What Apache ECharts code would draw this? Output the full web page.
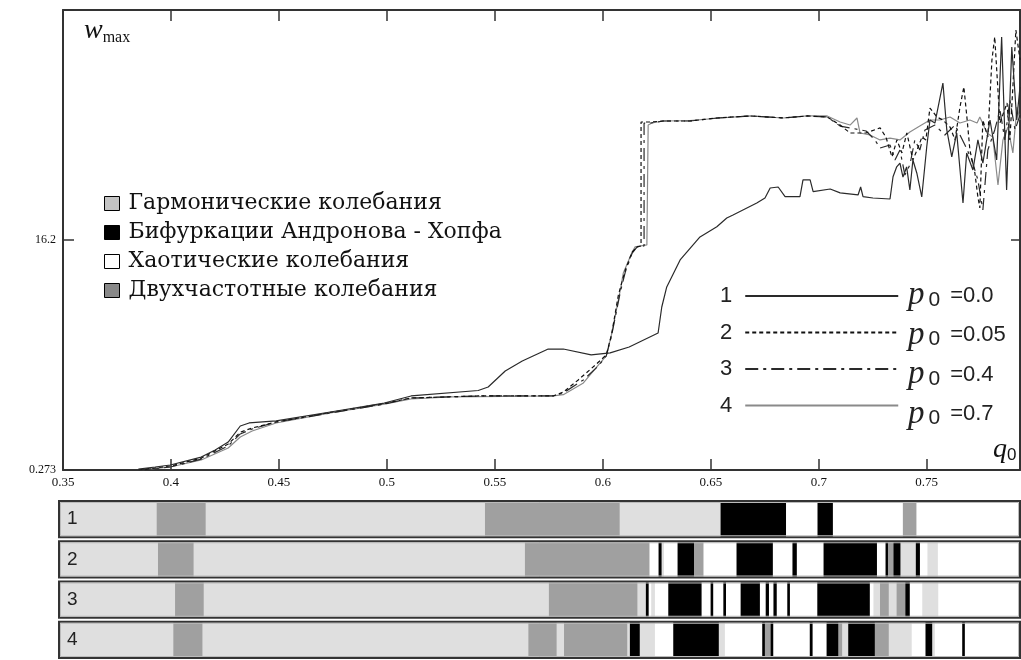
<!DOCTYPE html>
<html>
<head>
<meta charset="utf-8">
<script src="https://cdn.jsdelivr.net/npm/echarts@6.0.0/dist/echarts.min.js"></script>
<style>
  html, body { margin: 0; padding: 0; background: #fff; }
  #chart { width: 1021px; height: 660px; }
</style>
</head>
<body>
<div id="chart"></div>
<script>
// curve 1, p0 = 0.0
var q1 = [0.3849,0.3927,0.3997,0.4140,0.4205,0.4265,0.4321,0.4362,0.4487,0.4738,0.4988,0.5112,0.5423,0.5469,0.5548,0.5627,0.5747,0.5817,0.5946,0.6034,0.6122,0.6256,0.6273,0.6296,0.6358,0.6450,0.6528,0.6574,0.6603,0.6713,0.6751,0.6775,0.6812,0.6844,0.6913,0.6927,0.6960,0.6974,0.7053,0.7099,0.7182,0.7194,0.7205,0.7251,0.7330,0.7344,0.7361,0.7376,0.7390,0.7407,0.7422,0.7436,0.7454,0.7477,0.7500,0.7515,0.7538,0.7575,0.7593,0.7616,0.7639,0.7668,0.7685,0.7714,0.7737,0.7760,0.7793,0.7824,0.7847,0.7870,0.7894,0.7917,0.7932];
var w1 = [0.34,0.48,0.62,1.17,1.66,2.21,3.32,3.53,3.67,4.29,4.91,5.40,5.78,6.02,7.13,7.82,8.65,8.65,8.24,8.38,8.79,9.76,11.56,12.95,14.82,16.41,17.12,17.72,17.93,18.76,19.11,19.80,19.87,19.20,19.20,20.36,20.36,19.55,19.73,19.46,19.32,19.87,19.20,19.11,19.04,20.58,21.27,21.53,20.56,21.26,19.66,21.74,20.84,19.18,22.64,24.51,24.30,27.07,23.82,21.95,23.61,18.76,22.23,21.05,23.13,21.53,24.51,21.74,30.26,19.66,29.57,24.51,26.80];

// curve 2, p0 = 0.05
var q2 = [0.3849,0.3997,0.4140,0.4265,0.4321,0.4376,0.4487,0.4738,0.4988,0.5112,0.5423,0.5770,0.5817,0.5886,0.5965,0.6016,0.6040,0.6072,0.6104,0.6136,0.6159,0.6177,0.6177,0.6219,0.6279,0.6404,0.6529,0.6682,0.6835,0.6946,0.7039,0.7099,0.7145,0.7219,0.7284,0.7311,0.7339,0.7362,0.7385,0.7408,0.7436,0.7455,0.7478,0.7496,0.7515,0.7547,0.7575,0.7608,0.7631,0.7654,0.7672,0.7686,0.7700,0.7723,0.7737,0.7746,0.7760,0.7783,0.7802,0.7815,0.7839,0.7872,0.7885,0.7899,0.7913,0.7932];
var w2 = [0.27,0.55,1.10,2.07,2.89,3.18,3.60,4.26,4.88,5.26,5.40,5.40,5.67,6.51,7.54,8.24,9.62,12.39,14.12,15.37,15.72,15.79,24.37,24.37,24.44,24.44,24.65,24.79,24.65,24.79,24.72,24.16,23.61,23.61,23.96,23.33,21.95,23.13,22.23,23.61,21.74,22.43,23.33,23.13,25.34,24.72,24.51,24.02,23.13,25.41,26.80,24.72,22.43,20.84,19.18,18.42,24.51,23.33,28.67,30.26,24.30,25.69,23.13,26.80,30.74,28.67];

// curve 3, p0 = 0.4
var q3 = [0.3849,0.3997,0.4140,0.4265,0.4321,0.4376,0.4487,0.4738,0.4988,0.5112,0.5423,0.5770,0.5817,0.5910,0.5979,0.6016,0.6040,0.6081,0.6104,0.6136,0.6159,0.6191,0.6191,0.6219,0.6279,0.6404,0.6529,0.6682,0.6835,0.6946,0.7039,0.7099,0.7145,0.7219,0.7260,0.7284,0.7330,0.7353,0.7376,0.7399,0.7422,0.7445,0.7468,0.7492,0.7538,0.7584,0.7631,0.7677,0.7709,0.7737,0.7760,0.7783,0.7815,0.7839,0.7862,0.7885,0.7909,0.7932];
var w3 = [0.27,0.48,1.03,1.94,2.77,3.11,3.60,4.22,4.84,5.26,5.40,5.40,5.61,6.51,7.47,8.17,9.55,12.60,13.98,15.30,15.72,15.79,24.30,24.30,24.44,24.44,24.65,24.79,24.65,24.79,24.72,24.09,23.96,23.75,23.13,22.57,22.78,21.74,22.43,20.70,21.40,23.13,22.43,23.82,24.16,23.47,24.16,22.78,21.74,20.36,18.28,22.43,23.82,25.20,23.13,25.90,23.82,24.86];

// curve 4, p0 = 0.7
var q4 = [0.3849,0.3997,0.4140,0.4265,0.4321,0.4376,0.4487,0.4738,0.4988,0.5112,0.5293,0.5423,0.5770,0.5817,0.5910,0.5979,0.6016,0.6042,0.6081,0.6095,0.6134,0.6149,0.6204,0.6210,0.6228,0.6279,0.6404,0.6529,0.6682,0.6835,0.6946,0.7039,0.7099,0.7145,0.7177,0.7191,0.7237,0.7284,0.7330,0.7376,0.7422,0.7468,0.7515,0.7561,0.7608,0.7654,0.7700,0.7733,0.7746,0.7779,0.7806,0.7830,0.7853,0.7876,0.7899,0.7918,0.7932];
var w4 = [0.27,0.48,0.97,1.80,2.56,2.97,3.53,4.22,4.84,5.19,5.33,5.36,5.40,5.49,6.30,7.54,8.17,9.76,12.74,13.92,15.30,15.72,15.86,24.16,24.30,24.44,24.46,24.63,24.79,24.65,24.79,24.79,24.37,24.16,24.65,23.61,23.47,23.13,23.26,23.13,23.68,24.09,24.51,24.51,24.72,24.30,24.51,24.30,24.72,23.61,23.33,20.01,23.13,24.02,22.23,25.41,24.51];

var curveNames = ['1', '2', '3', '4'];
var p0Values = ['0.0', '0.05', '0.4', '0.7'];

// regime strips under the plot: band edges in q0 and the regime of each band
// H - harmonic, B - Andronov-Hopf bifurcation, C - chaotic, D - two-frequency
var strip1Edges = [0.3478,0.3935,0.4159,0.5455,0.6076,0.6546,0.6849,0.6992,0.7066,0.7390,0.7450,0.7937];
var strip1Modes = ['H','D','H','D','H','B','C','B','C','D','C'];
var strip2Edges = [0.3478,0.3941,0.4103,0.5640,0.6214,0.6256,0.6270,0.6284,0.6344,0.6423,0.6464,0.6617,0.6788,0.6876,0.6899,0.7020,0.7270,0.7307,0.7321,0.7344,0.7376,0.7450,0.7469,0.7501,0.7552,0.7937];
var strip2Modes = ['H','D','H','D','C','B','H','C','B','D','C','B','C','B','C','B','C','B','D','B','H','B','C','H','C'];
var strip3Edges = [0.3478,0.4020,0.4150,0.5751,0.6158,0.6200,0.6213,0.6222,0.6242,0.6301,0.6458,0.6497,0.6512,0.6556,0.6571,0.6636,0.6728,0.6752,0.6770,0.6788,0.6806,0.6852,0.6867,0.6991,0.7237,0.7251,0.7284,0.7322,0.7361,0.7399,0.7422,0.7477,0.7554,0.7937];
var strip3Modes = ['H','D','H','D','H','B','C','H','C','B','C','B','C','B','C','B','C','B','C','B','C','B','C','B','C','H','D','H','D','B','C','H','C'];
var strip4Edges = [0.3478,0.4012,0.4144,0.5656,0.5784,0.5821,0.6111,0.6126,0.6169,0.6242,0.6324,0.6535,0.6566,0.6736,0.6751,0.6775,0.6790,0.6956,0.6972,0.7034,0.7091,0.7106,0.7137,0.7260,0.7322,0.7431,0.7492,0.7523,0.7538,0.7662,0.7677,0.7937];
var strip4Modes = ['H','D','H','D','H','D','H','B','H','C','B','H','C','B','D','B','C','B','C','B','D','H','B','D','H','C','B','H','C','B','C'];

var stripLabels = ['1', '2', '3', '4'];
var regimeCodes = ['H', 'B', 'C', 'D'];
var regimeNames = ['Гармонические колебания', 'Бифуркации Андронова - Хопфа', 'Хаотические колебания', 'Двухчастотные колебания'];

var stripFill = { H: '#dfdfdf', B: '#000000', C: '#ffffff', D: '#a0a0a0' };
var legendFill = { H: '#c4c4c4', B: '#000000', C: '#ffffff', D: '#888888' };

var stripMin = 0.3478, stripMax = 0.7937;

var chart = echarts.init(document.getElementById('chart'));

var allEdges = [strip1Edges, strip2Edges, strip3Edges, strip4Edges];
var allModes = [strip1Modes, strip2Modes, strip3Modes, strip4Modes];

function regimeSegments(code) {
  var out = [];
  allEdges.forEach(function(edges, s) {
    var modes = allModes[s];
    for (var i = 0; i < modes.length; i++) {
      if (modes[i] === code) out.push([edges[i], edges[i + 1], s]);
    }
  });
  return out;
}

function renderBand(params, api) {
  var a = api.coord([api.value(0), api.value(2)]);
  var b = api.coord([api.value(1), api.value(2)]);
  var h = api.size([0, 1])[1];
  return {
    type: 'rect',
    shape: { x: a[0], y: a[1] - h / 2 + 2, width: b[0] - a[0] + 0.6, height: h - 4 },
    style: { fill: api.visual('color') }
  };
}

function renderFrame(params, api) {
  var a = api.coord([api.value(0), api.value(2)]);
  var b = api.coord([api.value(1), api.value(2)]);
  var h = api.size([0, 1])[1];
  return {
    type: 'group',
    children: [
      { type: 'rect', shape: { x: a[0] + 1, y: a[1] - h / 2 + 2, width: b[0] - a[0] - 2, height: h - 4 },
        style: { fill: null, stroke: '#333', lineWidth: 2 } },
      { type: 'rect', shape: { x: a[0] + 2.5, y: a[1] - h / 2 + 3.5, width: b[0] - a[0] - 5, height: h - 7 },
        style: { fill: null, stroke: '#bbb', lineWidth: 1 } }
    ]
  };
}

function pairs(qs, ws) {
  return qs.map(function(q, i) { return [q, ws[i]]; });
}

var lineDefs = [
  { q: q1, w: w1, color: '#2a2a2a', type: 'solid' },
  { q: q2, w: w2, color: '#111111', type: [4, 3] },
  { q: q3, w: w3, color: '#2a2a2a', type: [13, 5, 3, 5] },
  { q: q4, w: w4, color: '#8a8a8a', type: 'solid' }
];

var series = lineDefs.map(function(d, i) {
  return {
    name: curveNames[i],
    type: 'line',
    xAxisIndex: 0,
    yAxisIndex: 0,
    symbol: 'none',
    showSymbol: false,
    z: 6 - i,
    lineStyle: { color: d.color, width: 1.2, type: d.type },
    itemStyle: { color: d.color },
    data: pairs(d.q, d.w)
  };
});

regimeCodes.forEach(function(code, i) {
  series.push({
    name: regimeNames[i],
    type: 'custom',
    xAxisIndex: 2,
    yAxisIndex: 2,
    renderItem: renderBand,
    itemStyle: { color: stripFill[code] },
    encode: { x: [0, 1], y: 2 },
    data: regimeSegments(code)
  });
});

series.push({
  name: 'frames',
  type: 'custom',
  xAxisIndex: 2,
  yAxisIndex: 2,
  z: 5,
  renderItem: renderFrame,
  encode: { x: [0, 1], y: 2 },
  data: stripLabels.map(function(l, s) { return [stripMin, stripMax, s]; })
});

var axisLineStyle = { color: '#333', width: 2 };
var tickStyle = { color: '#333', width: 1.5 };

var option = {
  animation: false,
  backgroundColor: '#fff',
  title: [
    {
      text: '{w|w}{m|max}',
      left: 79, top: 11,
      textStyle: {
        fontWeight: 'normal',
        rich: {
          w: { fontFamily: 'Liberation Serif', fontStyle: 'italic', fontWeight: 'normal', fontSize: 28, color: '#111' },
          m: { fontFamily: 'Liberation Serif', fontWeight: 'normal', fontSize: 16, color: '#111', verticalAlign: 'bottom', padding: [14, 0, 0, 0] }
        }
      }
    },
    {
      text: '{q|q}{s|0}',
      left: 988, top: 430,
      textStyle: {
        fontWeight: 'normal',
        rich: {
          q: { fontFamily: 'Liberation Serif', fontStyle: 'italic', fontWeight: 'normal', fontSize: 28, color: '#111' },
          s: { fontFamily: 'Liberation Sans', fontWeight: 'normal', fontSize: 17, color: '#111', verticalAlign: 'bottom', padding: [12, 0, 0, 0] }
        }
      }
    }
  ],
  legend: [
    {
      orient: 'vertical',
      left: 104, top: 190,
      padding: 0,
      icon: 'rect',
      itemWidth: 15, itemHeight: 14,
      itemGap: 2,
      selectedMode: false,
      itemStyle: { borderColor: '#000', borderWidth: 1 },
      textStyle: { fontFamily: 'DejaVu Serif', fontSize: 22, color: '#111', lineHeight: 27, padding: [0, 0, 0, 4] },
      data: regimeCodes.map(function(code, i) {
        return { name: regimeNames[i], itemStyle: { color: legendFill[code], borderColor: '#000', borderWidth: 1 } };
      })
    },
    {
      orient: 'vertical',
      left: 720, top: 281,
      padding: 0,
      align: 'right',
      itemWidth: 153, itemHeight: 14,
      itemGap: 6.5,
      selectedMode: false,
      itemStyle: { opacity: 0 },
      textStyle: { fontFamily: 'Liberation Sans', fontSize: 22, color: '#222', lineHeight: 30, padding: [0, 8, 0, 0] },
      data: curveNames
    },
    {
      orient: 'vertical',
      left: 903, top: 279,
      padding: 0,
      icon: 'rect',
      itemWidth: 0, itemHeight: 0,
      itemGap: 6.5,
      selectedMode: false,
      formatter: function(name) {
        return '{p|p}{s|0}{v|=' + p0Values[curveNames.indexOf(name)] + '}';
      },
      textStyle: {
        lineHeight: 30,
        rich: {
          p: { fontFamily: 'Liberation Serif', fontStyle: 'italic', fontSize: 33, color: '#222', lineHeight: 30 },
          s: { fontFamily: 'Liberation Sans', fontSize: 21, color: '#222', verticalAlign: 'bottom', lineHeight: 30, padding: [6, 0, 0, 4] },
          v: { fontFamily: 'Liberation Sans', fontSize: 22, color: '#222', lineHeight: 30, padding: [0, 0, 0, 10] }
        }
      },
      data: curveNames
    }
  ],
  grid: [
    { left: 63, right: 1, top: 10, height: 460 },
    { left: 58, right: 0, top: 499, height: 161 }
  ],
  xAxis: [
    {
      gridIndex: 0, type: 'value', min: 0.35, max: 0.7932, interval: 0.05,
      axisLine: { show: true, onZero: false, lineStyle: axisLineStyle },
      axisTick: { inside: true, length: 11, lineStyle: tickStyle },
      splitLine: { show: false },
      axisLabel: {
        showMaxLabel: false,
        margin: 6,
        fontFamily: 'Liberation Serif', fontSize: 13, color: '#111',
        formatter: function(v) { return String(+v.toFixed(2)); }
      }
    },
    {
      gridIndex: 0, type: 'value', position: 'top', min: 0.35, max: 0.7932, interval: 0.05,
      axisLine: { show: true, onZero: false, lineStyle: axisLineStyle },
      axisTick: { inside: true, length: 11, lineStyle: tickStyle },
      splitLine: { show: false },
      axisLabel: { show: false }
    },
    {
      gridIndex: 1, type: 'value', min: stripMin, max: stripMax, show: false
    }
  ],
  yAxis: [
    {
      gridIndex: 0, type: 'value', min: 0.273, max: 32.127, interval: 15.927,
      axisLine: { show: true, onZero: false, lineStyle: axisLineStyle },
      axisTick: { inside: true, length: 11, lineStyle: tickStyle },
      splitLine: { show: false },
      axisLabel: {
        margin: 7,
        fontFamily: 'Liberation Serif', fontSize: 12, color: '#111',
        formatter: function(v) {
          if (Math.abs(v - 0.273) < 1e-6) return '0.273';
          if (Math.abs(v - 16.2) < 1e-3) return '16.2';
          return '';
        }
      }
    },
    {
      gridIndex: 0, type: 'value', position: 'right', min: 0.273, max: 32.127, interval: 15.927,
      axisLine: { show: true, onZero: false, lineStyle: axisLineStyle },
      axisTick: { inside: true, length: 9, lineStyle: tickStyle },
      splitLine: { show: false },
      axisLabel: { show: false }
    },
    {
      gridIndex: 1, type: 'category', data: stripLabels, inverse: true,
      z: 10,
      axisLine: { show: false },
      axisTick: { show: false },
      splitLine: { show: false },
      axisLabel: { inside: true, margin: 9, fontFamily: 'Liberation Sans', fontSize: 19, color: '#222' }
    }
  ],
  series: series
};

chart.setOption(option);
</script>
</body>
</html>
